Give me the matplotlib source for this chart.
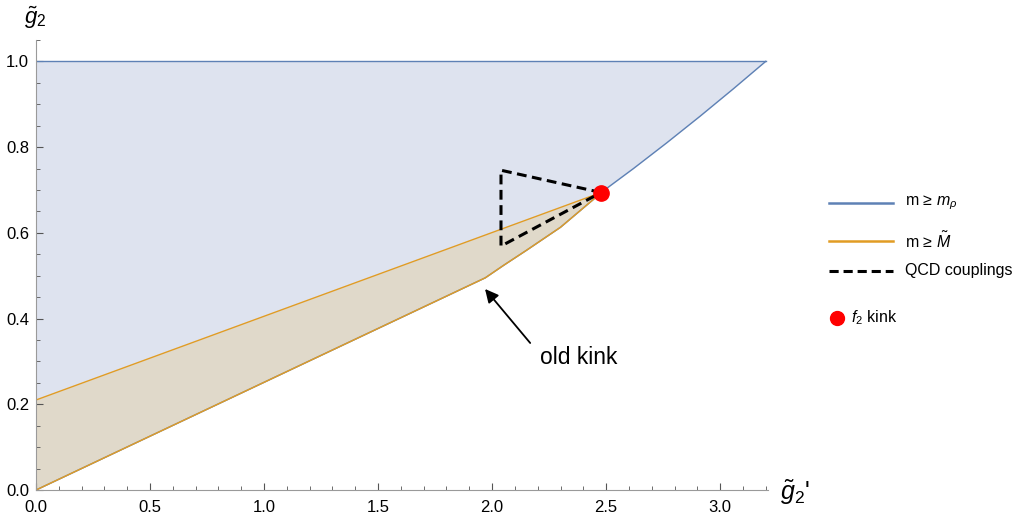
import numpy as np
import matplotlib.pyplot as plt
from matplotlib.lines import Line2D
from matplotlib.ticker import MultipleLocator

plt.rcParams['font.family'] = ['Liberation Sans', 'DejaVu Sans']
plt.rcParams['mathtext.fontset'] = 'custom'
plt.rcParams['mathtext.rm'] = 'Liberation Sans'
plt.rcParams['mathtext.it'] = 'Liberation Sans:italic'

# lower boundary shared by both regions (through the old kink)
low_x = [0.0, 1.97, 2.05, 2.15, 2.30, 2.44, 2.478]
low_y = [0.0, 0.495, 0.524, 0.559, 0.613, 0.676, 0.694]

# m >= m_rho boundary beyond the f2 kink
rho_x = [2.478, 2.620, 2.766, 2.912, 3.058, 3.200]
rho_y = [0.694, 0.750, 0.810, 0.872, 0.936, 1.0]

# m >= M upper edge
mt_x = [0.0, 2.478]
mt_y = [0.21, 0.694]

# QCD couplings triangle
qcd_x = [2.478, 2.039, 2.039, 2.478]
qcd_y = [0.694, 0.746, 0.569, 0.694]

kink = (2.478, 0.694)
old_kink = (1.969, 0.469)
arrow_tail = (2.167, 0.343)

blue_line = '#5e81b5'
blue_fill = '#dee3ef'
orange_line = '#e19c24'
beige_fill = '#e0d9ca'

fig = plt.figure(figsize=(10.17, 5.15), dpi=100)
ax = fig.add_axes([0.0354, 0.0485, 0.7198, 0.874])

# blue region: y=1 on top, lower boundary + rho curve below
bx = low_x + rho_x[1:]
by = low_y + rho_y[1:]
ax.fill_between(bx, by, 1.0, color=blue_fill, lw=0)
ax.plot(bx, by, color=blue_line, lw=1)
ax.plot([0, rho_x[-1]], [1.0, 1.0], color=blue_line, lw=1)

# orange region between the two orange edges
xs = np.array(low_x)
upper = np.interp(xs, mt_x, mt_y)
ax.fill_between(xs, low_y, upper, color=beige_fill, lw=0)
ax.plot(low_x, low_y, color=orange_line, lw=1)
ax.plot(mt_x, mt_y, color=orange_line, lw=1)

ax.plot(qcd_x, qcd_y, color='black', lw=2.2, ls=(0, (3.2, 1.8)))
ax.plot(*kink, 'o', color='#ff0000', ms=11, zorder=5)

ax.annotate('', xy=old_kink, xytext=arrow_tail,
            arrowprops=dict(arrowstyle='-|>', color='black', lw=1.3,
                            mutation_scale=20, shrinkA=0, shrinkB=0))
ax.text(2.21, 0.31, 'old kink', fontsize=16.5, va='center', ha='left')

ax.set_xlim(0, 3.21)
ax.set_ylim(0, 1.05)
for s in ['top', 'right']:
    ax.spines[s].set_visible(False)
for s in ['left', 'bottom']:
    ax.spines[s].set_color('#9a9a9a')
ax.xaxis.set_major_locator(MultipleLocator(0.5))
ax.xaxis.set_minor_locator(MultipleLocator(0.1))
ax.yaxis.set_major_locator(MultipleLocator(0.2))
ax.yaxis.set_minor_locator(MultipleLocator(0.05))
ax.xaxis.set_major_formatter(lambda v, p: f'{v:.1f}')
ax.yaxis.set_major_formatter(lambda v, p: f'{v:.1f}')
ax.tick_params(which='both', direction='in', color='#555555', labelsize=12)
ax.tick_params(axis='x', pad=7)
ax.tick_params(axis='y', pad=5)
ax.tick_params(which='major', length=5)
ax.tick_params(which='minor', length=3)

fig.text(0.024, 0.965, r'$\tilde{g}_2$', fontsize=16, ha='left', va='center')
fig.text(0.767, 0.043, r"$\tilde{g}_2$'", fontsize=18, ha='left', va='center')

# legend, laid out by hand in figure coordinates
entries = [
    (0.606, dict(color=blue_line, lw=1.8), r'm ≥ $m_\rho$'),
    (0.532, dict(color=orange_line, lw=1.8), r'm ≥ $\tilde{M}$'),
    (0.474, dict(color='black', lw=2.2, ls=(0, (3, 1.6))), 'QCD couplings'),
]
for y, style, label in entries:
    fig.add_artist(Line2D([0.815, 0.878], [y, y], transform=fig.transFigure, **style))
    fig.text(0.890, y, label, fontsize=11.5, va='center', ha='left')
fig.add_artist(Line2D([0.823], [0.383], transform=fig.transFigure, marker='o',
                      ls='', color='#ff0000', ms=10))
fig.text(0.837, 0.383, r'$f_2$ kink', fontsize=11.5, va='center', ha='left')

fig.savefig('out.png', dpi=100)
